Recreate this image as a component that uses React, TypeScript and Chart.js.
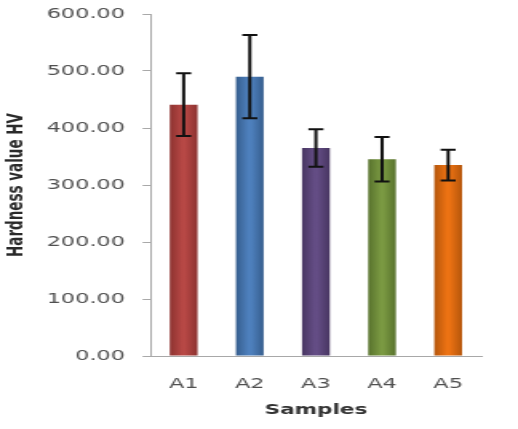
import { useEffect, useRef } from 'react';
import { Chart, registerables } from 'chart.js';

Chart.register(...registerables);

const categories = ['A1', 'A2', 'A3', 'A4', 'A5'];
const hardness = [441, 490, 365, 345, 335];
const errors = [55, 73, 33, 39, 27];
const yTickMin = 0;
const yTickMax = 600;
const yTickStep = 100;
const barColors = ['#b74845', '#4e80bd', '#644d85', '#7a9942', '#ec7213'];
const barEdges = ['#8c3230', '#365e8e', '#483662', '#58722d', '#b5560b'];

const W = 518;
const H = 429;
const STRETCH = 1.6;
const INNER_W = Math.round(W / STRETCH);
const BAR_PCT = 0.42;

const errorBarPlugin = {
  id: 'errorBars',
  afterDatasetsDraw(chart: any) {
    const { ctx, scales } = chart;
    const y = scales.y;
    const meta = chart.getDatasetMeta(0);
    ctx.save();
    ctx.strokeStyle = '#111111';
    ctx.lineWidth = 2;
    meta.data.forEach((bar: any, i: number) => {
      const v = hardness[i];
      const e = errors[i];
      const cx = bar.x;
      const top = y.getPixelForValue(v + e);
      const bot = y.getPixelForValue(v - e);
      const cap = 4.7;
      ctx.beginPath();
      ctx.moveTo(cx, top);
      ctx.lineTo(cx, bot);
      ctx.moveTo(cx - cap, top);
      ctx.lineTo(cx + cap, top);
      ctx.moveTo(cx - cap, bot);
      ctx.lineTo(cx + cap, bot);
      ctx.stroke();
    });
    ctx.restore();
  },
};

export default function App() {
  const ref = useRef<HTMLCanvasElement | null>(null);

  useEffect(() => {
    if (!ref.current) return;
    const chart = new Chart(ref.current, {
      type: 'bar',
      data: {
        labels: categories,
        datasets: [
          {
            data: hardness,
            barPercentage: BAR_PCT,
            categoryPercentage: 1,
            borderWidth: 0,
            backgroundColor: (c: any) => {
              const i = c.dataIndex;
              if (i === undefined) return barColors[0];
              const chartRef = c.chart;
              const xs = chartRef.scales.x;
              if (!xs || !chartRef.chartArea) return barColors[i];
              const cx = xs.getPixelForValue(i);
              const half = (xs.width / categories.length) * BAR_PCT / 2;
              const g = chartRef.ctx.createLinearGradient(cx - half, 0, cx + half, 0);
              g.addColorStop(0, barEdges[i]);
              g.addColorStop(0.45, barColors[i]);
              g.addColorStop(0.55, barColors[i]);
              g.addColorStop(1, barEdges[i]);
              return g;
            },
          },
        ],
      },
      options: {
        responsive: false,
        animation: false,
        devicePixelRatio: 1,
        layout: { padding: { top: 0, right: 23, bottom: 10, left: 0 } },
        plugins: {
          legend: { display: false },
          tooltip: { enabled: false },
        },
        scales: {
          x: {
            grid: {
              display: true,
              drawOnChartArea: false,
              drawTicks: true,
              tickLength: 9,
              tickColor: 'rgba(0,0,0,0)',
              color: '#a8a8a8',
            },
            border: { display: true, color: '#a8a8a8', width: 1 },
            ticks: {
              padding: 10.5,
              color: '#505050',
              font: { family: 'DejaVu Sans', size: 14 },
            },
            title: {
              display: true,
              text: 'Samples',
              color: '#333333',
              padding: { top: 0, bottom: 0 },
              font: { family: 'DejaVu Sans', size: 13.5, weight: 'bold' },
            },
          },
          y: {
            min: yTickMin,
            max: yTickMax,
            afterFit: (scale: any) => {
              scale.paddingTop = 14;
            },
            grid: { display: true, drawOnChartArea: false, drawTicks: true, tickLength: 5, color: '#a8a8a8' },
            border: { display: true, color: '#a8a8a8', width: 1 },
            ticks: {
              stepSize: yTickStep,
              padding: 11,
              color: '#505050',
              font: { family: 'DejaVu Sans', size: 14 },
              callback: (v: any) => Number(v).toFixed(2),
            },
            title: {
              display: true,
              text: 'Hardness value HV',
              color: '#2a2a2a',
              padding: { top: 2, bottom: 0 },
              font: { family: 'DejaVu Sans', size: 13.5, weight: 'bold' },
            },
          },
        },
      },
      plugins: [errorBarPlugin],
    });
    return () => chart.destroy();
  }, []);

  return (
    <div style={{ position: 'fixed', left: 0, top: 0, width: W, height: H, background: '#ffffff' }}>
      <canvas
        ref={ref}
        width={INNER_W}
        height={H}
        style={{ display: 'block', width: `${W}px`, height: `${H}px` }}
      />
    </div>
  );
}
